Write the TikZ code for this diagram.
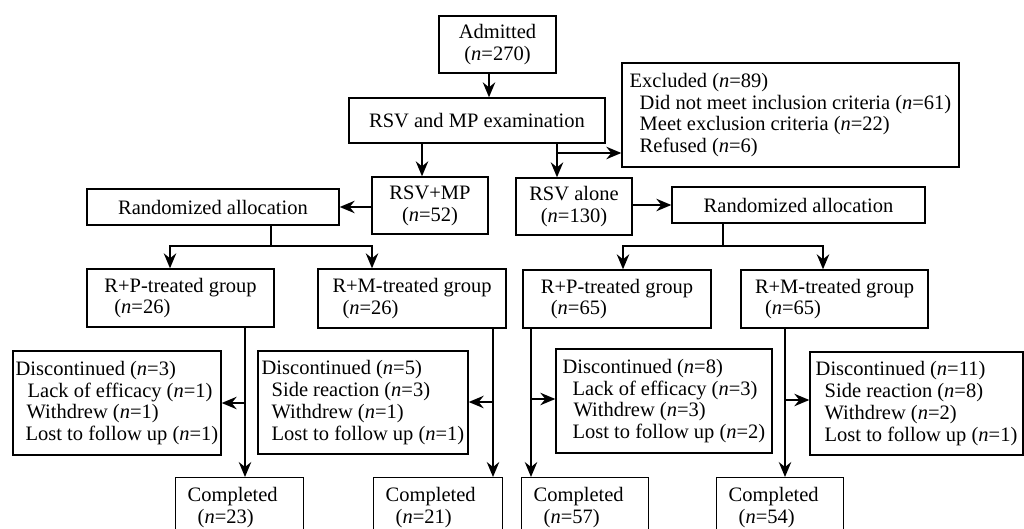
\documentclass[tikz,border=0pt]{standalone}
\usepackage{fontspec}
\setmainfont{Liberation Serif}
\usetikzlibrary{arrows.meta}
\begin{document}
\begin{tikzpicture}[x=1pt,y=-1pt,
 box/.style={draw, line width=1.4pt, inner sep=0pt, font=\fontsize{20.5}{21.8}\selectfont},
 done/.style={box, anchor=north west, align=left, inner xsep=12pt, inner ysep=0pt, text width=#1, minimum height=60pt},
 arr/.style={line width=1.4pt, -{Stealth[length=15pt,width=12.5pt,inset=5pt]}},
 ln/.style={line width=1.4pt}]
\useasboundingbox (0,0) rectangle (1024,529);
\clip (0,0) rectangle (1024,529);
% top
\node[box, minimum width=117pt, minimum height=57pt, align=center] (adm) at (497.5,44.5) {Admitted\\(\textit{n}=270)};
\node[box, minimum width=256pt, minimum height=45pt, align=center] (exam) at (477,120.5) {RSV and MP examination};
\node[box, minimum width=337pt, minimum height=104pt, align=left] (excl) at (790.5,115) {Excluded (\textit{n}=89)\\\hspace*{10pt}Did not meet inclusion criteria (\textit{n}=61)\\\hspace*{10pt}Meet exclusion criteria (\textit{n}=22)\\\hspace*{10pt}Refused (\textit{n}=6)};
\node[box, minimum width=116pt, minimum height=57pt, align=center] (rsvmp) at (430,205.5) {RSV+MP\\(\textit{n}=52)};
\node[box, minimum width=116pt, minimum height=57pt, align=center] (rsval) at (574,206.5) {RSV alone\\(\textit{n}=130)};
\node[box, minimum width=252pt, minimum height=36pt, align=center] (randL) at (213,207) {Randomized allocation};
\node[box, minimum width=253pt, minimum height=36pt, align=center] (randR) at (798.5,205) {Randomized allocation};
% groups
\node[box, minimum width=187pt, minimum height=58pt, align=left] (rpL) at (180.5,298) {R+P-treated group\\\hspace*{10pt}(\textit{n}=26)};
\node[box, minimum width=188pt, minimum height=59pt, align=left] (rmL) at (412,298.5) {R+M-treated group\\\hspace*{10pt}(\textit{n}=26)};
\node[box, minimum width=188pt, minimum height=58pt, align=left] (rpR) at (617,299) {R+P-treated group\\\hspace*{10pt}(\textit{n}=65)};
\node[box, minimum width=187pt, minimum height=58pt, align=left] (rmR) at (834.5,299) {R+M-treated group\\\hspace*{10pt}(\textit{n}=65)};
% discontinued
\node[box, minimum width=208pt, minimum height=104pt, align=left] (d1) at (117,403) {Discontinued (\textit{n}=3)\\\hspace*{12pt}Lack of efficacy (\textit{n}=1)\\\hspace*{11pt}Withdrew (\textit{n}=1)\\\hspace*{10pt}Lost to follow up (\textit{n}=1)};
\node[box, minimum width=210pt, minimum height=103pt, align=left] (d2) at (363,402.5) {Discontinued (\textit{n}=5)\\\hspace*{10pt}Side reaction (\textit{n}=3)\\\hspace*{10pt}Withdrew (\textit{n}=1)\\\hspace*{10pt}Lost to follow up (\textit{n}=1)};
\node[box, minimum width=216pt, minimum height=104pt, align=left] (d3) at (664,401) {Discontinued (\textit{n}=8)\\\hspace*{10pt}Lack of efficacy (\textit{n}=3)\\\hspace*{11pt}Withdrew (\textit{n}=3)\\\hspace*{10pt}Lost to follow up (\textit{n}=2)};
\node[box, minimum width=213pt, minimum height=103pt, align=left] (d4) at (916.5,403.5) {Discontinued (\textit{n}=11)\\\hspace*{9pt}Side reaction (\textit{n}=8)\\\hspace*{9pt}Withdrew (\textit{n}=2)\\\hspace*{9pt}Lost to follow up (\textit{n}=1)};
% completed
\node[done=104pt] (c1) at (175,477) {Completed\\\hspace*{10pt}(\textit{n}=23)};
\node[done=105pt] (c2) at (373,477) {Completed\\\hspace*{10pt}(\textit{n}=21)};
\node[done=103pt] (c3) at (521,477) {Completed\\\hspace*{10pt}(\textit{n}=57)};
\node[done=103pt] (c4) at (716,477) {Completed\\\hspace*{10pt}(\textit{n}=54)};
% helper coordinates
\coordinate (xa) at (489,0);
\coordinate (xb) at (422,0);
\coordinate (xc) at (557,0);
\coordinate (ya) at (0,153);
\coordinate (sL) at (271,246);
\coordinate (pL) at (170,246);
\coordinate (qL) at (372,246);
\coordinate (sR) at (723,246);
\coordinate (pR) at (623,246);
\coordinate (qR) at (823,246);
\coordinate (k1) at (245,403);
\coordinate (k2) at (493,402);
\coordinate (k3) at (531,399);
\coordinate (k4) at (785,400);
% connectors
\draw[arr] (adm.south -| xa) -- (exam.north -| xa);
\draw[arr] (exam.south -| xb) -- (rsvmp.north -| xb);
\draw[arr] (exam.south -| xc) -- (rsval.north -| xc);
\draw[arr] (xc |- ya) -- (excl.west |- ya);
\draw[arr] (rsvmp.west |- randL.east) -- (randL.east);
\draw[arr] (rsval.east |- randR.west) -- (randR.west);
\draw[ln] (randL.south -| sL) -- (sL);
\draw[arr] (sL) -- (pL) -- (rpL.north -| pL);
\draw[arr] (sL) -- (qL) -- (rmL.north -| qL);
\draw[ln] (randR.south -| sR) -- (sR);
\draw[arr] (sR) -- (pR) -- (rpR.north -| pR);
\draw[arr] (sR) -- (qR) -- (rmR.north -| qR);
\draw[arr] (rpL.south -| k1) -- (c1.north -| k1);
\draw[arr] (k1) -- (d1.east |- k1);
\draw[arr] (rmL.south -| k2) -- (c2.north -| k2);
\draw[arr] (k2) -- (d2.east |- k2);
\draw[arr] (rpR.south -| k3) -- (c3.north -| k3);
\draw[arr] (k3) -- (d3.west |- k3);
\draw[arr] (rmR.south -| k4) -- (c4.north -| k4);
\draw[arr] (k4) -- (d4.west |- k4);
\end{tikzpicture}
\end{document}
